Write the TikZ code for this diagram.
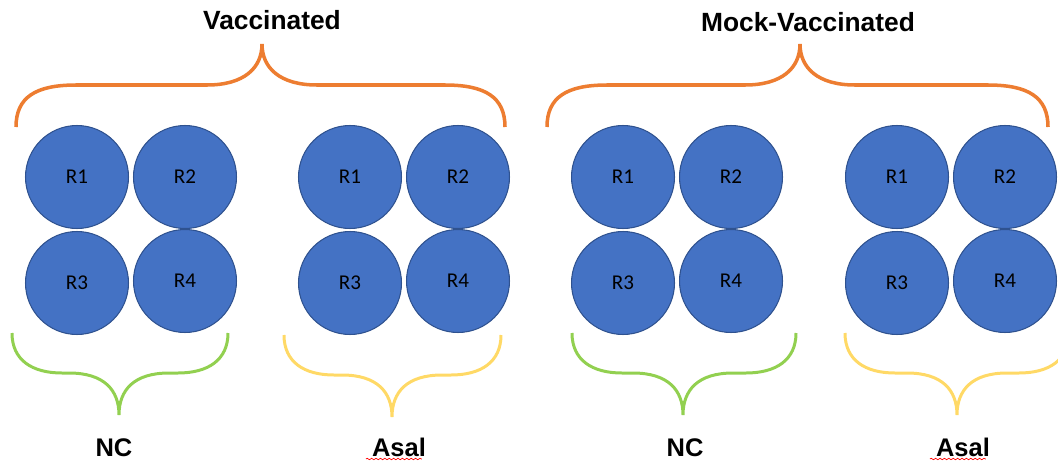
\documentclass[tikz,border=0pt]{standalone}
\usepackage{fontspec}
\setmainfont{Liberation Sans}
\newfontfamily\repfont{Carlito}
\usetikzlibrary{decorations.pathmorphing}

\definecolor{repblue}{HTML}{4472C4}
\definecolor{repedge}{HTML}{2F528F}
\definecolor{bracorange}{HTML}{ED7D31}
\definecolor{bracgreen}{HTML}{92D050}
\definecolor{bracyellow}{HTML}{FFD966}

\tikzset{
  rep/.style={circle, fill=repblue, draw=repedge, line width=0.6pt,
    minimum size=2.06cm, inner sep=0pt, font=\repfont\fontsize{12}{14}\selectfont},
  grouplabel/.style={anchor=base, font=\bfseries\fontsize{15}{18}\selectfont},
  sublabel/.style={anchor=base, font=\bfseries\fontsize{14.5}{17}\selectfont},
  topbrace/.style={draw=bracorange, line width=2pt},
  botbrace/.style={line width=1.7pt}
}

\begin{document}
\begin{tikzpicture}[x=0.02cm, y=-0.02cm]
  \useasboundingbox (0,0) rectangle (1058,460);
  \clip (0,0) rectangle (1058,460);

  % group titles
  \node[grouplabel] (vac) at (272,29) {Vaccinated};
  \node[grouplabel] (mock) at (808,31) {Mock-Vaccinated};

  % orange braces over the two groups
  \foreach \l/\t/\r in {16/262/505, 547/800/1048}
    \draw[topbrace] (\l,127) .. controls (\l,97) and (\l+20,85) .. (\l+60,85)
      -- (\t-55,85) .. controls (\t-18,85) and (\t,68) .. (\t,44)
      .. controls (\t,68) and (\t+18,85) .. (\t+55,85)
      -- (\r-60,85) .. controls (\r-20,85) and (\r,97) .. (\r,127);

  % replicates
  \foreach \g/\gx in {vnc/77, vas/350, mnc/623, mas/897} {
    \node[rep] (\g1) at (\gx,177) {R1};
    \node[rep] (\g2) at (\gx+108,177) {R2};
    \node[rep] (\g3) at (\gx,283) {R3};
    \node[rep] (\g4) at (\gx+108,281) {R4};
  }

  % lower braces
  \foreach \l/\t/\r/\b/\col in {12/119/228/0/bracgreen, 284/392/501/2/bracyellow,
                                572/683/796/0/bracgreen, 845/957/1069/0/bracyellow}
    \draw[botbrace, draw=\col] (\l,333+\b) .. controls (\l,360+\b) and (\l+20,373+\b) .. (\l+50,373+\b)
      -- (\t-50,373+\b) .. controls (\t-15,373+\b) and (\t,390+\b) .. (\t,415+\b)
      .. controls (\t,390+\b) and (\t+15,373+\b) .. (\t+50,373+\b)
      -- (\r-50,373+\b) .. controls (\r-20,373+\b) and (\r,360+\b) .. (\r,333+\b);

  % treatment labels
  \node[sublabel] (nc1) at (114,456) {NC};
  \node[sublabel] (asal1) at (399,456) {Asal};
  \node[sublabel] (nc2) at (685,456) {NC};
  \node[sublabel] (asal2) at (963,456) {Asal};

  % spell-check squiggles
  \draw[red, line width=0.4pt, decorate, decoration={snake, amplitude=0.4pt, segment length=2.5pt}]
    (asal1.base west) ++(0,3) -- ++(56,0);
  \draw[red, line width=0.4pt, decorate, decoration={snake, amplitude=0.4pt, segment length=2.5pt}]
    (asal2.base west) ++(0,3) -- ++(56,0);
\end{tikzpicture}
\end{document}
